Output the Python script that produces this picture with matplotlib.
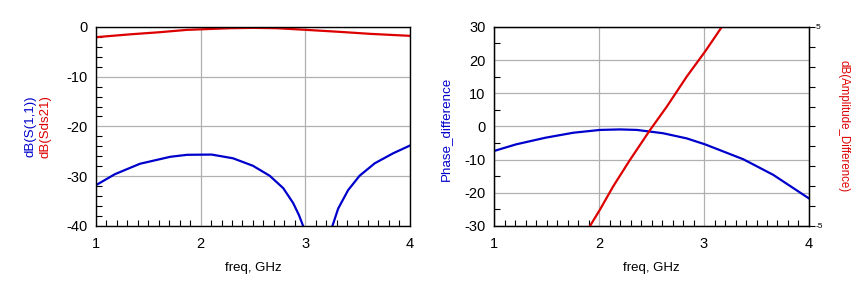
import numpy as np
import matplotlib
matplotlib.use("Agg")
import matplotlib.pyplot as plt
from matplotlib.ticker import MultipleLocator

plt.rcParams['font.family'] = ['Liberation Sans', 'DejaVu Sans']
plt.rcParams['axes.unicode_minus'] = False

# left panel: S-parameters (dB)
f_s21 = [1.0, 1.325, 1.61, 1.87, 2.28, 2.5, 2.73, 3.01, 3.33, 3.62, 4.0]
s21_db = [-2.07, -1.5, -1.07, -0.6, -0.27, -0.2, -0.27, -0.6, -1.0, -1.4, -1.8]

f_s11 = [1.0, 1.18, 1.42, 1.71, 1.87, 2.105, 2.31, 2.5, 2.66, 2.79, 2.885, 2.94, 2.98,
         3.12,
         3.26, 3.315, 3.41, 3.52, 3.665, 3.84, 4.0]
s11_db = [-31.8, -29.6, -27.5, -26.1, -25.7, -25.65, -26.4, -27.9, -29.9, -32.4, -35.4, -37.8, -40.0,
          -60.0,
          -40.0, -36.5, -32.8, -29.9, -27.4, -25.4, -23.85]

# right panel: phase difference and amplitude difference (dB)
f_phase = [1.0, 1.21, 1.49, 1.755, 2.01, 2.2, 2.36, 2.61, 2.835, 3.01, 3.375, 3.66, 4.0]
phase_diff = [-7.4, -5.4, -3.4, -1.9, -1.05, -0.9, -1.05, -2.05, -3.6, -5.4, -9.9, -14.6, -21.7]

f_amp = [1.914, 2.01, 2.136, 2.295, 2.486, 2.645, 2.835, 3.01, 3.17]
amp_diff = [-5.0, -4.17, -3.0, -1.68, -0.18, 0.99, 2.5, 3.76, 5.0]

blue = '#0000cc'
red = '#dd0000'

fig = plt.figure(figsize=(8.67, 2.89), dpi=100)
ax1 = fig.add_axes([0.1107, 0.218, 0.362, 0.689])
ax2 = fig.add_axes([0.5698, 0.218, 0.3633, 0.689])

def style(ax, ylo, yhi, ymaj, ymin):
    ax.set_xlim(1, 4)
    ax.set_ylim(ylo, yhi)
    ax.xaxis.set_major_locator(MultipleLocator(1))
    ax.xaxis.set_minor_locator(MultipleLocator(0.1))
    ax.yaxis.set_major_locator(MultipleLocator(ymaj))
    ax.yaxis.set_minor_locator(MultipleLocator(ymin))
    ax.grid(True, which='major', color='#b0b0b0', linewidth=0.9)
    ax.tick_params(which='major', direction='in', length=0, labelsize=10.5, pad=6)
    ax.tick_params(which='minor', direction='in', length=4, width=0.8)
    ax.tick_params(axis='x', which='major', pad=8)
    for s in ax.spines.values():
        s.set_linewidth(1.0)
    ax.set_xlabel('freq, GHz', fontsize=9.5, labelpad=8)

style(ax1, -40, 0, 10, 2)
ax1.plot(f_s21, s21_db, color=red, linewidth=1.6)
ax1.plot(f_s11, s11_db, color=blue, linewidth=1.6)
fig.text(0.035, 0.671, 'dB(S(1,1))', color=blue, rotation=90, fontsize=9.5,
         ha='center', va='top')
fig.text(0.053, 0.671, 'dB(Sds21)', color=red, rotation=90, fontsize=9.5,
         ha='center', va='top')

style(ax2, -30, 30, 10, 5)
ax2.plot(f_phase, phase_diff, color=blue, linewidth=1.6)
fig.text(446 / 867, 1 - 129 / 289, 'Phase_difference', color=blue, rotation=90,
         fontsize=9.6, ha='center', va='center')

ax3 = ax2.twinx()
ax3.set_ylim(-5, 5)
ax3.set_yticks([-5, 5])
ax3.yaxis.set_minor_locator(MultipleLocator(1))
ax3.tick_params(which='major', direction='out', length=4, labelsize=6, pad=1)
ax3.tick_params(which='minor', direction='out', length=4, width=0.8)
ax3.plot(f_amp, amp_diff, color=red, linewidth=1.6)
fig.text(843 / 867, 1 - 126 / 289, 'dB(Amplitude_Difference)', color=red,
         rotation=270, fontsize=8.3, ha='center', va='center')

fig.savefig('out.png', dpi=100)
